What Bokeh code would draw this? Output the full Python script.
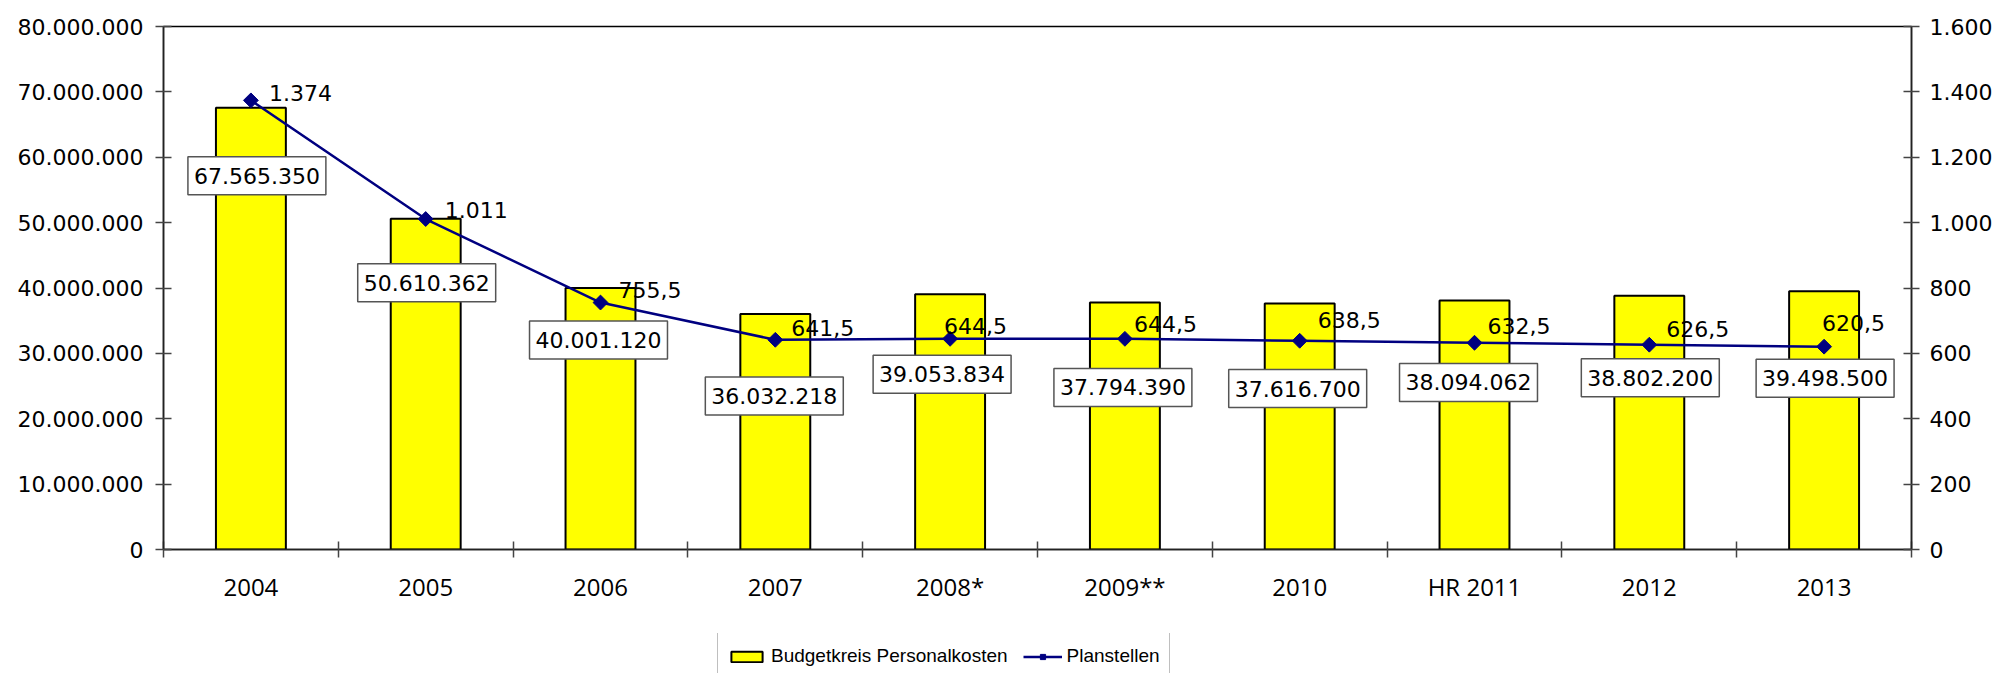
import numpy as np
from bokeh.plotting import figure
from bokeh.layouts import column
from bokeh.models import ColumnDataSource, Range1d, LinearAxis, FixedTicker, Legend, LegendItem
from bokeh.core.properties import value
from bokeh.embed import file_html
from bokeh.resources import INLINE

# ---------------- data ----------------
categories = ["2004", "2005", "2006", "2007", "2008*", "2009**", "2010", "HR 2011", "2012", "2013"]
personalkosten = [67565350, 50610362, 40001120, 36032218, 39053834, 37794390, 37616700, 38094062, 38802200, 39498500]
planstellen = [1374, 1011, 755.5, 641.5, 644.5, 644.5, 638.5, 632.5, 626.5, 620.5]
left_ticks = [0, 10000000, 20000000, 30000000, 40000000, 50000000, 60000000, 70000000, 80000000]
right_ticks = [0, 200, 400, 600, 800, 1000, 1200, 1400, 1600]
series_names = ["Budgetkreis Personalkosten", "Planstellen"]

# ---------------- label placement (screen pixels) ----------------
bar_label_dx = [6, 1, -2, -1, -8, -2, -2, -6, 1, 1]
bar_label_dy = [68, 64, 52, 82, 80, 85, 85, 82, 82, 87]
line_label_dx = [18, 19, 18, 16, -6, 9, 18, 13, 17, -2]
line_label_dy = [-7, -9, -13, -12, -13, -15, -21, -17, -16, -24]

BAR_FILL = "#FFFF00"
LINE_COL = "#000080"


def de(v):
    if float(v).is_integer():
        return f"{int(v):,}".replace(",", ".")
    s = f"{v:,.1f}"
    return s.replace(",", "X").replace(".", ",").replace("X", ".")


n = len(categories)
xc = [i + 0.5 for i in range(n)]

src = ColumnDataSource(dict(
    x=xc, v=personalkosten, pl=planstellen,
    vl=[de(v) for v in personalkosten], pll=[de(v) for v in planstellen],
    bdx=bar_label_dx, bdy=bar_label_dy, ldx=line_label_dx, ldy=line_label_dy,
))

p = figure(width=1997, height=633, output_backend="svg", toolbar_location=None,
           x_range=Range1d(0, n), y_range=Range1d(0, left_ticks[-1]),
           min_border_left=163, min_border_right=86, min_border_top=26, min_border_bottom=84)
p.extra_y_ranges = {"right": Range1d(0, right_ticks[-1])}
p.xgrid.visible = False
p.ygrid.visible = False
p.outline_line_color = "black"
p.outline_line_width = 1.5
p.background_fill_color = "white"
p.border_fill_color = "white"

axis_color = "#222222"
tick_color = "#444444"

xa = p.xaxis[0]
xa.ticker = FixedTicker(ticks=xc, minor_ticks=list(range(n + 1)))
xa.major_label_overrides = {x: c for x, c in zip(xc, categories)}
xa.major_tick_in = 0
xa.major_tick_out = 0
xa.minor_tick_in = 8
xa.minor_tick_out = 8
xa.minor_tick_line_color = tick_color
xa.minor_tick_line_width = 1.5
xa.axis_line_color = axis_color
xa.axis_line_width = 1.5
xa.major_label_text_font = "Open Sans"
xa.major_label_text_font_size = "24px"
xa.major_label_text_color = "black"
xa.major_label_standoff = 12

ya = p.yaxis[0]
ya.ticker = FixedTicker(ticks=left_ticks, minor_ticks=[])
ya.major_label_overrides = {t: de(t) for t in left_ticks}
ra = LinearAxis(y_range_name="right", ticker=FixedTicker(ticks=right_ticks, minor_ticks=[]),
                major_label_overrides={t: de(t) for t in right_ticks})
p.add_layout(ra, "right")
for ax, so in ((ya, 12), (ra, 10)):
    ax.major_tick_in = 8
    ax.major_tick_out = 8
    ax.minor_tick_in = 0
    ax.minor_tick_out = 0
    ax.major_tick_line_color = tick_color
    ax.major_tick_line_width = 1.5
    ax.axis_line_color = axis_color
    ax.axis_line_width = 1.5
    ax.major_label_text_font = "DejaVu Sans"
    ax.major_label_text_font_size = "22px"
    ax.major_label_text_color = "black"
    ax.major_label_standoff = so

bar_style = dict(fill_color=BAR_FILL, line_color="black", line_width=2)
line_style = dict(line_color=LINE_COL, line_width=2.5)
mark_style = dict(marker="square", angle=np.pi / 4, size=10.5, fill_color=LINE_COL, line_color=LINE_COL)

p.vbar(x="x", top="v", width=0.4, source=src, **bar_style)
p.line(x="x", y="pl", source=src, y_range_name="right", **line_style)
p.scatter(x="x", y="pl", source=src, y_range_name="right", **mark_style)

p.text(x="x", y="v", text="vl", source=src, x_offset="bdx", y_offset="bdy",
       text_font=value("DejaVu Sans"), text_font_size="22px", text_color="black",
       text_align="center", text_baseline="middle",
       background_fill_color="white", border_line_color="#555555", border_line_width=1.5,
       padding=dict(left=6, right=6, top=11, bottom=11))
p.text(x="x", y="pl", text="pll", source=src, y_range_name="right", x_offset="ldx", y_offset="ldy",
       text_font=value("DejaVu Sans"), text_font_size="22px", text_color="black",
       text_align="left", text_baseline="middle")

# ---------------- legend strip (own small figure below the chart) ----------------
# same series; the strip's y-range lies far above all values and the bars have zero width,
# so only the legend itself is visible here
lg = figure(width=1997, height=40, output_backend="svg", toolbar_location=None,
            x_axis_type=None, y_axis_type=None, x_range=Range1d(0, n), y_range=Range1d(1e12, 2e12),
            min_border_left=0, min_border_right=0, min_border_top=0, min_border_bottom=0)
lg.outline_line_color = None
lg.xgrid.visible = False
lg.ygrid.visible = False
lg.background_fill_color = "white"
lg.border_fill_color = "white"
lb = lg.vbar(x="x", top="v", width=0, source=src, **bar_style)
ll = lg.line(x="x", y="pl", source=src, **line_style)
lm = lg.scatter(x="x", y="pl", source=src, **mark_style)

legend = Legend(items=[LegendItem(label=series_names[0], renderers=[lb]),
                       LegendItem(label=series_names[1], renderers=[ll, lm])],
                orientation="horizontal", location=(554, -7),
                label_text_font="Liberation Sans",
                label_text_font_size="19px", label_text_color="black",
                glyph_width=39, glyph_height=13, label_standoff=5, spacing=15,
                padding=9, margin=0, label_height=28,
                border_line_color="#808080", border_line_width=1.5,
                background_fill_color="white", background_fill_alpha=1)
lg.add_layout(legend)

layout = column(p, lg, spacing=0)
open("out.html", "w").write(file_html(layout, INLINE))
